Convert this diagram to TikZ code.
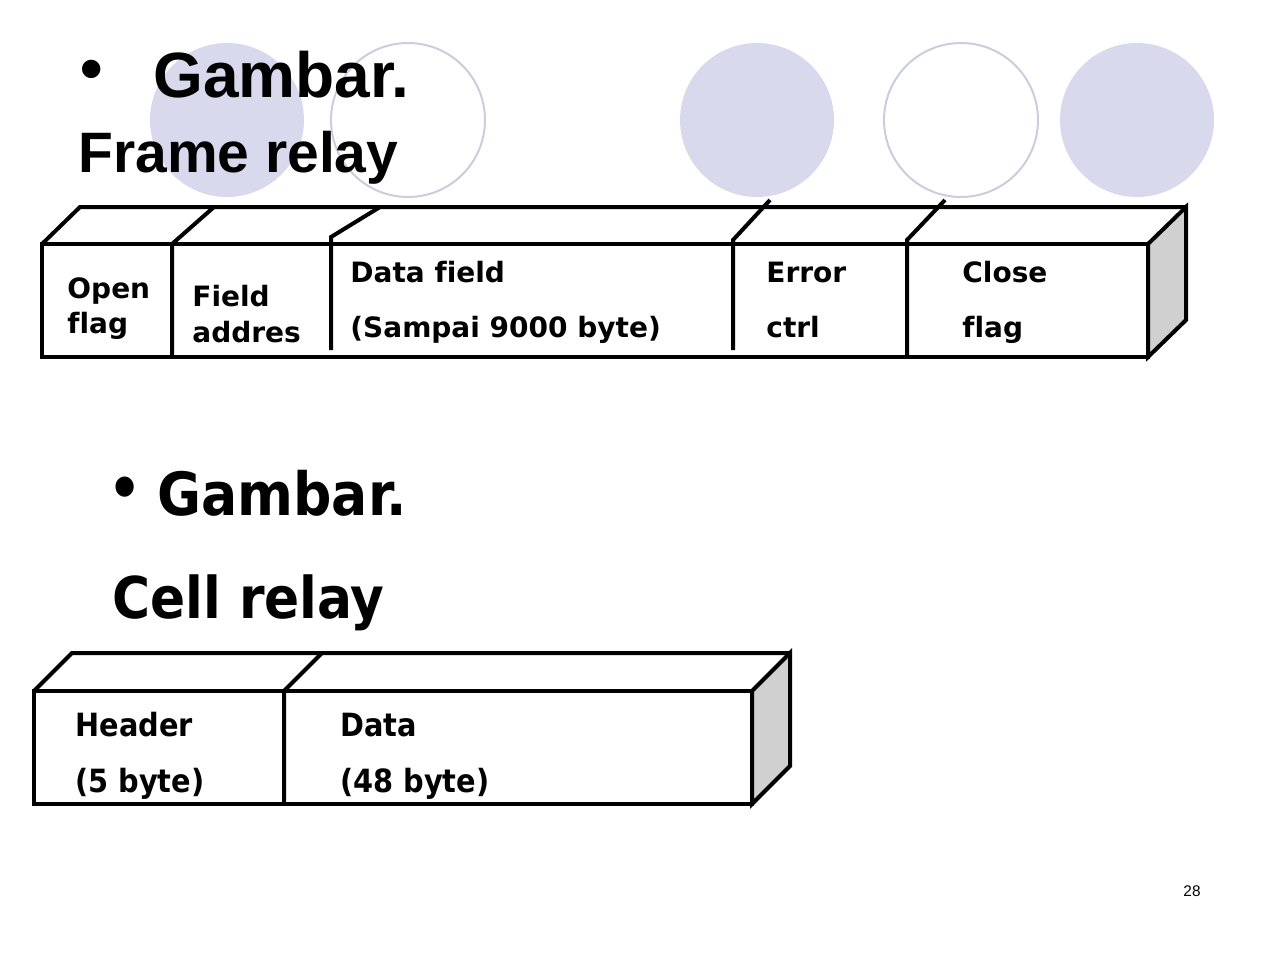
\documentclass[tikz,border=0pt]{standalone}
\usepackage{fontspec}
\setmainfont{Liberation Sans}
\newfontfamily\boxfont[Ligatures=NoCommon]{DejaVu Sans}
\newfontfamily\cellfont[Ligatures=NoCommon]{DejaVu Sans Condensed}
\usetikzlibrary{positioning}
\definecolor{lavender}{HTML}{D9D9EE}
\definecolor{sidegray}{HTML}{D0D0D0}

\begin{document}
\begin{tikzpicture}[x=0.5pt,y=-0.5pt,line join=miter,
    frame/.style={draw=black,line width=2pt},
    side/.style={frame,fill=sidegray},
    dot/.style={fill=lavender},
    ring/.style={draw=lavender!90!black!60!lavender,line width=1pt},
    bigtitle/.style={inner sep=0pt,font=\bfseries\fontsize{32}{36}\selectfont},
    subtitle/.style={anchor=base west,inner sep=0pt,font=\bfseries\fontsize{28.5}{32}\selectfont},
    celltitle/.style={inner sep=0pt,font=\cellfont\bfseries\fontsize{28.8}{32}\selectfont},
    lbl/.style={anchor=base west,inner sep=0pt,font=\boxfont\bfseries\fontsize{14}{16}\selectfont},
    cell/.style={anchor=base west,inner sep=0pt,font=\cellfont\bfseries\fontsize{16}{18}\selectfont}]
    \useasboundingbox (0,0) rectangle (1278,959);
    % circles
    \fill[dot] (227,120) circle (38.5pt);
    \draw[ring] (408,120) circle (38.5pt);
    \fill[dot] (757,120) circle (38.5pt);
    \draw[ring] (961,120) circle (38.5pt);
    \fill[dot] (1137,120) circle (38.5pt);
    % titles
    \node[bigtitle] (bul1) at (92,75) {•};
    \node[bigtitle,anchor=base west] (gam1) at (153,97) {Gambar.};
    \node[subtitle] (frame) at (78,172) {Frame relay};
    \node[celltitle] (bul2) at (125,493) {•};
    \node[celltitle,anchor=base west,font=\cellfont\bfseries\fontsize{29.8}{32}\selectfont] (gam2) at (157,515) {Gambar.};
    \node[celltitle,anchor=base west] (cellr) at (112,618) {Cell relay};
    % frame relay box
    \draw[frame] (42,244) rectangle (1148,357);
    \draw[frame] (42,244) -- (80,207) -- (1186,207);
    \draw[side] (1148,244) -- (1186,207) -- (1186,320) -- (1148,357) -- cycle;
    \draw[frame] (172,357) -- (172,244) -- (214,207);
    \draw[frame] (331,350) -- (331,237) -- (380,207);
    \draw[frame] (733,350) -- (733,240) -- (770,200);
    \draw[frame] (907,357) -- (907,240) -- (945,200);
    \node[lbl] (open) at (67,298) {Open};
    \node[lbl] (oflag) at (67,333) {flag};
    \node[lbl] (field) at (192,306) {Field};
    \node[lbl] (addr) at (192,342) {addres};
    \node[lbl] (data) at (350,282) {Data field};
    \node[lbl] (max) at (350,337) {(Sampai 9000 byte)};
    \node[lbl] (err) at (766,282) {Error};
    \node[lbl] (ctrl) at (766,337) {ctrl};
    \node[lbl] (close) at (962,282) {Close};
    \node[lbl] (cflag) at (962,337) {flag};
    % cell relay box
    \draw[frame] (34,691) rectangle (752,804);
    \draw[frame] (34,691) -- (72,653) -- (790,653);
    \draw[side] (752,691) -- (790,653) -- (790,766) -- (752,804) -- cycle;
    \draw[frame] (284,804) -- (284,691) -- (322,653);
    \node[cell] (head) at (75,736) {Header};
    \node[cell] (hlen) at (75,792) {(5 byte)};
    \node[cell] (cdata) at (340,736) {Data};
    \node[cell] (dlen) at (340,792) {(48 byte)};
    \node[font=\fontsize{7.7}{9}\selectfont] (pnum) at (1192,891) {28};
\end{tikzpicture}
\end{document}
